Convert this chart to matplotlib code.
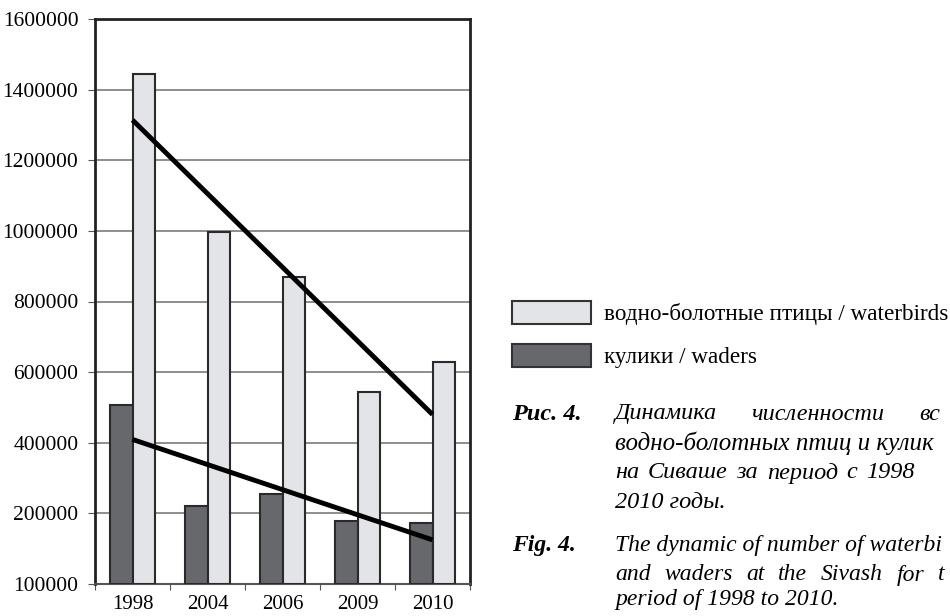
import numpy as np
import matplotlib.pyplot as plt
from matplotlib.patches import Patch

# данные
years = ['1998', '2004', '2006', '2009', '2010']
waterbirds = [1445000, 997000, 870000, 544000, 629000]
waders = [507000, 222000, 255000, 179000, 173000]
ytick_values = [0, 200000, 400000, 600000, 800000, 1000000, 1200000, 1400000, 1600000]
ytick_labels = ['100000', '200000', '400000', '600000', '800000',
                '1000000', '1200000', '1400000', '1600000']

legend_labels = ['водно-болотные птицы / waterbirds', 'кулики / waders']

plt.rcParams['font.family'] = ['Liberation Serif', 'DejaVu Serif']

fig = plt.figure(figsize=(9.5, 6.16), dpi=100)
ax = fig.add_axes([95 / 950, 1 - 584 / 616, 375 / 950, 565 / 616])

x = np.arange(len(years))
w = 0.3
light = '#e3e4e7'
dark = '#67686b'

ax.bar(x - w / 2, waders, w, color=dark, edgecolor='#2a2a2a', linewidth=1.5, zorder=3)
ax.bar(x + w / 2, waterbirds, w, color=light, edgecolor='#2a2a2a', linewidth=1.5, zorder=3)

# линейные тренды
for vals in (waterbirds, waders):
    k, b = np.polyfit(x, vals, 1)
    ax.plot([x[0], x[-1]], [b, k * x[-1] + b], color='black', lw=3.5,
            solid_capstyle='butt', zorder=4)

ax.set_xlim(-0.5, len(years) - 0.5)
ax.set_ylim(0, 1600000)
ax.set_yticks(ytick_values)
ax.set_yticklabels(ytick_labels, fontsize=15.5)
ax.set_xticks(np.arange(len(years) + 1) - 0.5)
ax.set_xticklabels([])
ax.set_xticks(x, minor=True)
ax.set_xticklabels(years, minor=True, fontsize=15)
ax.tick_params(axis='x', which='minor', length=0, pad=8)
ax.tick_params(axis='x', which='major', length=4, color='#555555', direction='out')
ax.tick_params(axis='y', length=5, color='#555555', pad=7)
ax.yaxis.grid(True, color='#858585', lw=1.3, zorder=0)
for s in ax.spines.values():
    s.set_linewidth(2)
    s.set_color('#222222')
ax.spines['bottom'].set_linewidth(1.5)
ax.spines['bottom'].set_color('#555555')

handles = [Patch(facecolor=light, edgecolor='#333333', lw=1.5),
           Patch(facecolor=dark, edgecolor='#333333', lw=1.5)]
fig.legend(handles, legend_labels, loc='upper left', frameon=False,
           bbox_to_anchor=(512 / 950, 1 - 301 / 616), borderpad=0,
           fontsize=16.7, handlelength=3.4, handleheight=1.14,
           handletextpad=0.55, labelspacing=0.8, borderaxespad=0)

renderer = fig.canvas.get_renderer()


def ftxt(px, py, s, size=17.5, **kw):
    return fig.text(px / 950, 1 - py / 616, s, va='center', ha='left',
                    fontsize=size, **kw)


# строка, выровненная по ширине: первое слово с x0, последнее начинается с x_last
def justify(py, items, x0, x_last, size=17.5):
    txts = [ftxt(x0, py, s, size=size, style='italic') for s in items]
    widths = [t.get_window_extent(renderer).width for t in txts]
    gap = (x_last - x0 - sum(widths[:-1])) / (len(items) - 1)
    px = x0
    for t, wd in zip(txts, widths):
        t.set_x(px / 950)
        px += wd + gap


# подпись к рисунку
ftxt(512, 414, 'Рис. 4.', weight='bold', style='italic')
justify(414, ['Динамика', 'численности', 'вс'], 615, 919)
ftxt(615, 443, 'водно-болотных птиц и кулик', size=18, style='italic')
justify(473, ['на', 'Сиваше', 'за', 'период', 'с', '1998'], 615, 866)
ftxt(615, 503, '2010 годы.', style='italic')
ftxt(512, 546, 'Fig. 4.', size=17, weight='bold', style='italic')
ftxt(615, 546, 'The dynamic of number of waterbi', size=17, style='italic')
justify(575, ['and', 'waders', 'at', 'the', 'Sivash', 'for', 't'], 615, 938, size=17)
ftxt(615, 600, 'period of 1998 to 2010.', size=17, style='italic')

fig.savefig('out.png', dpi=100)
